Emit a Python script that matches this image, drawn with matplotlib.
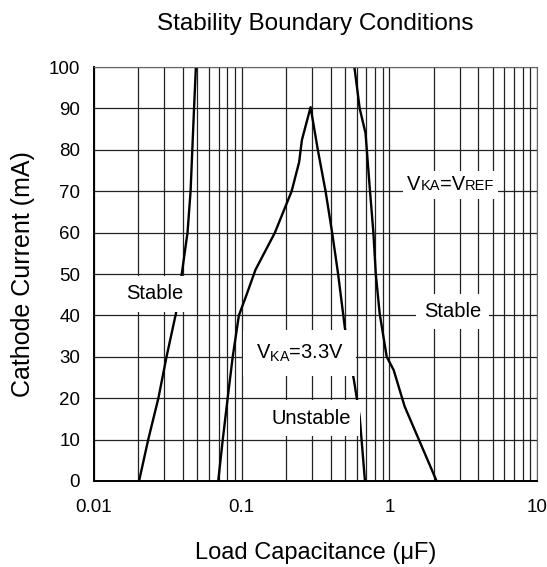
import matplotlib
matplotlib.use("Agg")
import matplotlib.pyplot as plt
from matplotlib.ticker import LogLocator, NullFormatter, FixedLocator
from matplotlib.offsetbox import TextArea, HPacker, AnnotationBbox

plt.rcParams['font.family'] = ['Liberation Sans', 'DejaVu Sans']
plt.rcParams['mathtext.fontset'] = 'custom'
plt.rcParams['mathtext.rm'] = 'Liberation Sans'

# left boundary (Stable / unstable)
left_c = [0.0202, 0.0233, 0.0273, 0.0310, 0.0359, 0.0393, 0.043, 0.0451, 0.0476, 0.049]
left_i = [0, 10, 20, 30, 40.5, 50, 60, 70, 90, 100]

# V_KA = 3.3V boundary
mid_c = [0.0694, 0.0745, 0.0804, 0.0870, 0.0958, 0.108, 0.124, 0.168, 0.218, 0.245,
         0.256, 0.293, 0.328, 0.370, 0.41, 0.45, 0.50, 0.58, 0.63, 0.684]
mid_i = [0, 10, 20, 30, 40, 45, 51, 60, 70, 77,
         82.4, 90.3, 80, 70, 60, 50, 37, 23.7, 15.5, 0]

# V_KA = V_REF boundary
right_c = [0.58, 0.63, 0.69, 0.74, 0.78, 0.81, 0.86, 0.96, 1.07, 1.27, 2.09]
right_i = [100, 90, 84, 70, 60, 50, 40.5, 30, 26.8, 18, 0]

fig = plt.figure(figsize=(5.47, 5.67), dpi=100)
ax = fig.add_axes([0.1718, 0.1517, 0.8099, 0.7301])

ax.plot(left_c, left_i, color='black', lw=1.7)
ax.plot(mid_c, mid_i, color='black', lw=1.7)
ax.plot(right_c, right_i, color='black', lw=1.7)

ax.set_xscale('log')
ax.set_xlim(0.01, 10)
ax.set_ylim(0, 100)
ax.xaxis.set_major_locator(FixedLocator([0.01, 0.1, 1, 10]))
ax.set_xticklabels(['0.01', '0.1', '1', '10'])
ax.xaxis.set_minor_locator(LogLocator(base=10, subs=range(2, 10)))
ax.xaxis.set_minor_formatter(NullFormatter())
ax.set_yticks(range(0, 101, 10))
ax.grid(True, which='both', axis='x', color='#222222', lw=0.9)
ax.grid(True, which='major', axis='y', color='#222222', lw=0.9)
ax.set_axisbelow(True)
ax.tick_params(which='both', length=0)
ax.tick_params(axis='x', pad=13, labelsize=13.5)
ax.tick_params(axis='y', pad=10, labelsize=13.5)
for s in ax.spines.values():
    s.set_color('#666666')
ax.spines['left'].set_color('black')
ax.spines['bottom'].set_color('black')
ax.spines['left'].set_linewidth(1.4)
ax.spines['bottom'].set_linewidth(1.4)

ax.set_title('Stability Boundary Conditions', fontsize=17.5, pad=27)
ax.set_xlabel('Load Capacitance (μF)', fontsize=17, labelpad=19)
ax.set_ylabel('Cathode Current (mA)', fontsize=18, labelpad=10)

box = dict(facecolor='white', edgecolor='none', pad=6)
ax.text(0.0257, 45.2, 'Stable', fontsize=14.5, ha='center', va='center', bbox=box)
ax.text(2.68, 40.9, 'Stable', fontsize=14.5, ha='center', va='center', bbox=box)
ax.text(0.248, 30.9, r'$\mathrm{V_{KA}}$=3.3V', fontsize=14.5, ha='center', va='center',
        bbox=dict(facecolor='white', edgecolor='none', pad=9))
ax.text(0.298, 15.2, 'Unstable', fontsize=14.5, ha='center', va='center', bbox=box)

parts = [('V', 14.5), ('KA', 10.5), ('=V', 14.5), ('REF', 10.5)]
areas = [TextArea(t, textprops=dict(fontsize=s, family='Liberation Sans')) for t, s in parts]
pack = HPacker(children=areas, align='baseline', pad=0, sep=0)
ab = AnnotationBbox(pack, (2.6, 71.5), xycoords='data', frameon=True, pad=0.3,
                    bboxprops=dict(facecolor='white', edgecolor='none'))
ax.add_artist(ab)

fig.savefig('out.png', dpi=100)
